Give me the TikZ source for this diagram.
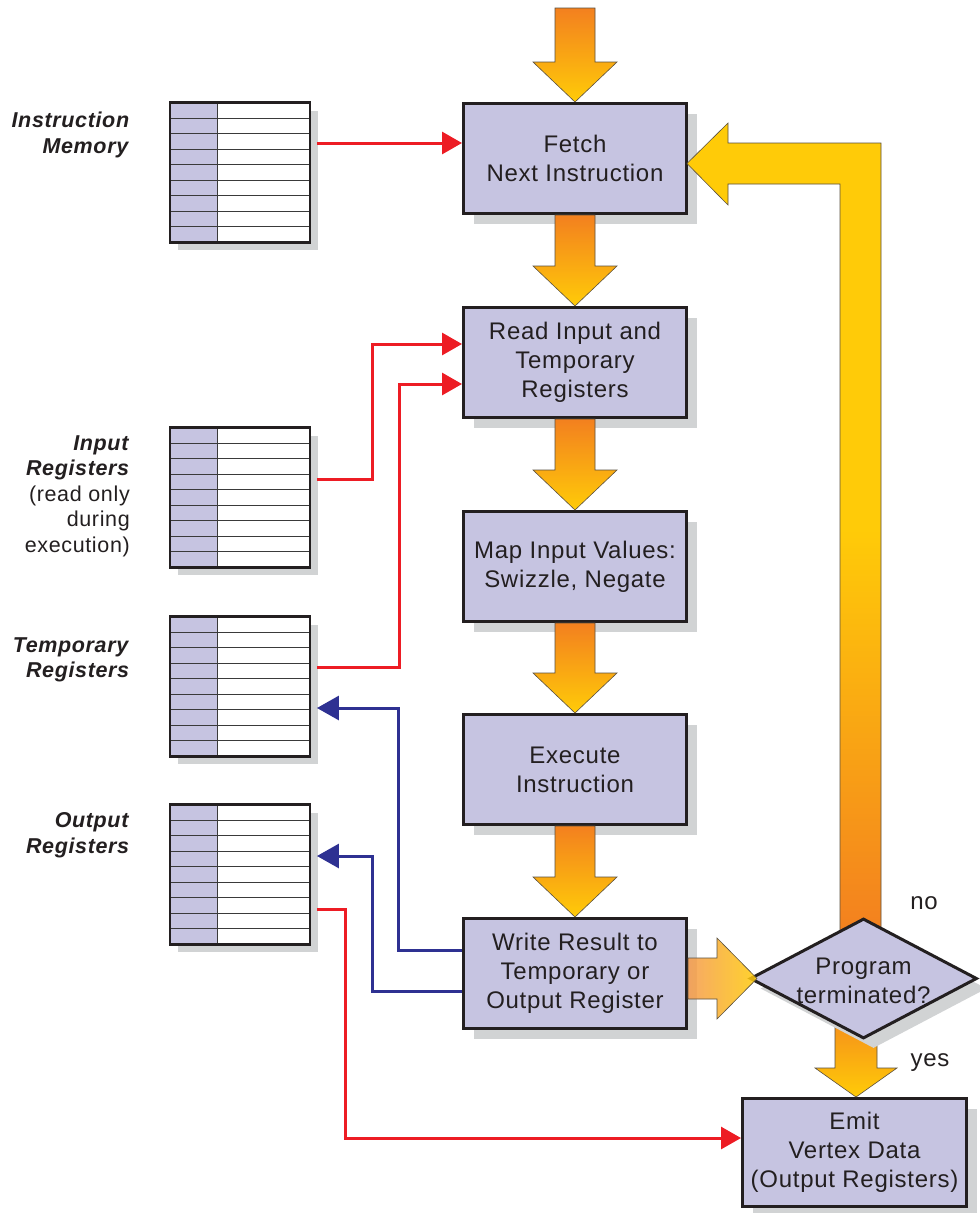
\documentclass[tikz,border=0pt]{standalone}
\usepackage{fontspec}
\setmainfont{Liberation Sans}
\newfontfamily\mainsans[LetterSpace=3]{Liberation Sans}
\usetikzlibrary{arrows.meta,shapes.geometric,shadows,calc}
\definecolor{lav}{HTML}{C6C4E1}
\definecolor{ink}{HTML}{231F20}
\definecolor{shadowgray}{HTML}{D1D3D4}
\definecolor{redc}{HTML}{ED1C24}
\definecolor{bluec}{HTML}{2E3192}
\definecolor{orangec}{HTML}{F3801F}
\definecolor{yellowc}{HTML}{FFCB08}
\definecolor{arrowedge}{HTML}{5A5040}
\definecolor{rowc}{HTML}{3A3A3A}
\newcommand\boxfont{\mainsans\fontsize{24}{29}\selectfont}
\newcommand\lblfont{\mainsans\fontsize{21.5}{25.5}\selectfont}
\tikzset{
  mainbox/.style={draw=ink, line width=3pt, fill=lav, minimum width=223, minimum height=110,
    align=center, font=\boxfont, text=ink, inner sep=0pt,
    drop shadow={shadow xshift=10pt, shadow yshift=-10pt, fill=shadowgray, opacity=1}},
  regbox/.style={fill=white, minimum width=139.5, minimum height=139.5, inner sep=0pt,
    drop shadow={shadow xshift=8pt, shadow yshift=-8pt, fill=shadowgray, opacity=1}},
  rowline/.style={draw=rowc, line width=1.1pt},
  lbl/.style={anchor=east, align=right, font=\lblfont, text=ink, inner sep=0pt},
  plain/.style={font=\boxfont, text=ink, inner sep=0pt},
  redl/.style={draw=redc, line width=3pt, -{Triangle[length=20pt,width=22pt]}},
  bluel/.style={draw=bluec, line width=3pt, -{Triangle[length=22pt,width=24pt]}},
  blockarrow/.style={top color=orangec, bottom color=yellowc, draw=arrowedge, line width=0.6pt},
}
\newcommand\regtable[3]{%
  \node[regbox] (#1) at (#2,#3) {};
  \fill[lav] (#1.north west) rectangle ([xshift=47pt]#1.south west);
  \foreach \i in {1,...,8}{\draw[rowline] ($(#1.north west)!\i/9!(#1.south west)$) -- ($(#1.north east)!\i/9!(#1.south east)$);}
  \draw[rowline] ([xshift=47pt]#1.north west) -- ([xshift=47pt]#1.south west);
  \draw[ink, line width=2.5pt] (#1.north west) rectangle (#1.south east);
}
\newcommand\blockdown[3]{%
  \path[blockarrow] let \p1=(#1), \p2=(#2) in
    ({\x1-20pt},\y1) -- ({\x1+20pt},\y1) -- ({\x1+20pt},{\y2+#3}) -- ({\x1+42pt},{\y2+#3})
    -- (\x1,\y2) -- ({\x1-42pt},{\y2+#3}) -- ({\x1-20pt},{\y2+#3}) -- cycle;
}
\begin{document}
\begin{tikzpicture}[x=1pt,y=-1pt]
\fill[white] (0,0) rectangle (980,1213);
\useasboundingbox (0,0) rectangle (980,1213);

% register tables
\regtable{instmem}{240}{172.5}
\regtable{inreg}{240}{497.5}
\regtable{tmpreg}{240}{686.5}
\regtable{outreg}{240}{874.5}

% left labels
\node[lbl] (lblinst) at (130,135) {\textbf{\textit{Instruction}}\\\textbf{\textit{Memory}}};
\node[lbl] (lblin) at (130,496) {\textbf{\textit{Input}}\\\textbf{\textit{Registers}}\\(read only\\during\\execution)};
\node[lbl] (lbltmp) at (130,660) {\textbf{\textit{Temporary}}\\\textbf{\textit{Registers}}};
\node[lbl] (lblout) at (130,835) {\textbf{\textit{Output}}\\\textbf{\textit{Registers}}};

% main boxes
\node[mainbox] (fetch) at (575,158.5) {Fetch\\Next Instruction};
\node[mainbox] (read) at (575,362.5) {Read Input and\\Temporary\\Registers};
\node[mainbox] (map) at (575,566.5) {Map Input Values:\\Swizzle, Negate};
\node[mainbox] (exec) at (575,769.5) {Execute\\Instruction};
\node[mainbox] (write) at (575,973.5) {Write Result to\\Temporary or\\Output Register};
\node[mainbox, minimum width=224, minimum height=108] (emit) at (854.5,1152.5) {Emit\\Vertex Data\\(Output Registers)};

% connectors
\draw[redl, shorten <=7pt] (instmem.east |- 0,143) -- (fetch.west |- 0,143);
\draw[redl, shorten <=7pt] (inreg.east |- 0,479) -| (372,344) -- (read.west |- 0,344);
\draw[redl, shorten <=7pt] (tmpreg.east |- 0,667) -| (399,384) -- (read.west |- 0,384);
\draw[redl, shorten <=7pt] (outreg.east |- 0,909) -| (345,1138) -- (emit.west |- 0,1138);
\draw[bluel, shorten >=7pt] (write.west |- 0,950) -| (398,708) -- (tmpreg.east |- 0,708);
\draw[bluel, shorten >=7pt] (write.west |- 0,991) -| (372,856) -- (outreg.east |- 0,856);

% block arrows down the column
\coordinate (topin) at (575,8);
\blockdown{topin}{fetch.north}{40pt}
\blockdown{fetch.south}{read.north}{40pt}
\blockdown{read.south}{map.north}{40pt}
\blockdown{map.south}{exec.north}{40pt}
\blockdown{exec.south}{write.north}{40pt}

% loop back arrow (behind the diamond)
\path[top color=yellowc, bottom color=orangec, middle color=yellowc, draw=arrowedge, line width=0.6pt]
  (840,935) -- (840,184) -- (728,184) -- (728,205) -- (687,163.5) -- (728,123) -- (728,143)
  -- (881,143) -- (881,935) -- cycle;
% down arrow to emit (behind the diamond)
\path[blockarrow] (835,1000) -- (877,1000) -- (877,1068) -- (897,1068) -- (856,1097)
  -- (815,1068) -- (835,1068) -- cycle;

% decision
\node[diamond, draw=ink, line width=3pt, fill=lav, minimum width=227, minimum height=120, inner sep=0pt,
  drop shadow={shadow xshift=10pt, shadow yshift=-10pt, fill=shadowgray, opacity=1}] (term) at (863.5,978.5) {};
\node[plain, align=center] (termtxt) at ([yshift=-2pt]term.center) {Program\\terminated?};

% arrow from write to decision
\path[left color=orangec!80!white, right color=yellowc, fill opacity=0.85, draw=arrowedge, line width=0.6pt]
  (688,958) -- (717,958) -- (717,938) -- (757,978.5) -- (717,1019) -- (717,999) -- (688,999) -- cycle;

\node[plain] (no) at (924,903) {no};
\node[plain] (yes) at (930,1063) {yes};
\end{tikzpicture}
\end{document}
